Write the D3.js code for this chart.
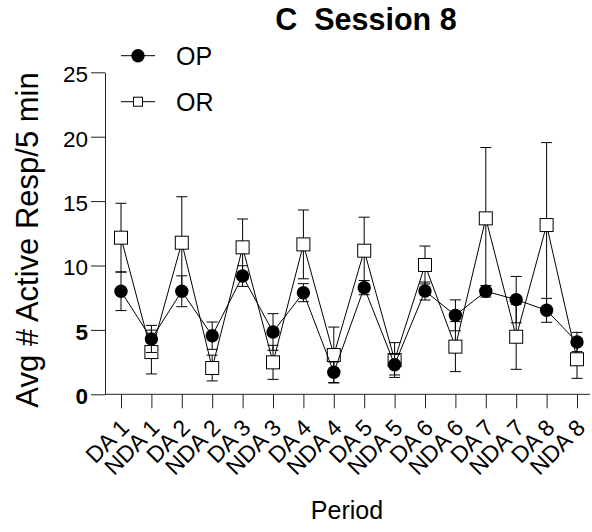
<!DOCTYPE html>
<html lang="en">
<head>
    <meta charset="UTF-8">
    <script src="https://d3js.org/d3.v7.min.js"></script>
    <style>
        body { margin: 0; background: #fff; }
        text { font-family: "Liberation Sans", Arial, sans-serif; fill: #000; }
    </style>
    <title>Session 8</title>
</head>
<body>
    <script>
        // Data (mean and SEM per period)
        const periods = ["DA 1", "NDA 1", "DA 2", "NDA 2", "DA 3", "NDA 3", "DA 4", "NDA 4",
                         "DA 5", "NDA 5", "DA 6", "NDA 6", "DA 7", "NDA 7", "DA 8", "NDA 8"];
        const opMean = [8.0, 4.3, 8.0, 4.55, 9.18, 4.84, 7.89, 1.71, 8.28, 2.3, 8.02, 6.13, 8.0, 7.35, 6.52, 4.06];
        const opSem  = [1.5, 1.05, 1.2, 1.06, 0.8, 1.42, 0.7, 0.8, 0.55, 0.8, 0.7, 1.2, 0.45, 1.8, 0.93, 0.75];
        const orMean = [12.16, 3.28, 11.77, 2.04, 11.41, 2.48, 11.64, 3.05, 11.15, 2.66, 10.04, 3.7, 13.66, 4.47, 13.14, 2.72];
        const orSem  = [2.67, 1.7, 3.57, 1.0, 2.2, 1.32, 2.67, 2.17, 2.6, 1.35, 1.47, 1.94, 5.5, 2.53, 6.4, 1.48];
        const yTicks = [0, 5, 10, 15, 20, 25];

        const width = 592;
        const height = 532;
        const axisX = 105;     // where the y axis sits
        const rightEdge = 590; // end of x axis line

        const svg = d3.select("body")
            .append("svg")
            .attr("width", width)
            .attr("height", height);

        const x = d3.scalePoint()
            .domain(periods)
            .range([121, 577]);

        const y = d3.scaleLinear()
            .domain([0, 25])
            .range([394.3, 72.3]);

        // y axis
        const yAxis = svg.append("g")
            .attr("transform", `translate(${axisX},0)`)
            .call(d3.axisLeft(y).tickValues(yTicks).tickSize(14).tickSizeOuter(0).tickPadding(3));
        yAxis.selectAll("text")
            .style("font-size", "22.5px")
            .style("font-family", "'Liberation Sans', Arial, sans-serif")
            .style("font-weight", d => (d === 0 || d === 5) ? "bold" : "normal")
            .attr("dy", "0.42em");
        yAxis.selectAll("line, path").attr("stroke", "#222");

        // x axis
        const xAxis = svg.append("g")
            .attr("transform", `translate(0,${y(0)})`)
            .call(d3.axisBottom(x).tickSize(14).tickSizeOuter(0));
        xAxis.select(".domain").remove();
        xAxis.append("line")
            .attr("x1", axisX)
            .attr("x2", rightEdge)
            .attr("stroke", "#222");
        xAxis.selectAll(".tick line").attr("stroke", "#222");
        xAxis.selectAll(".tick text")
            .style("font-size", "23px")
            .style("font-family", "'Liberation Sans', Arial, sans-serif")
            .attr("text-anchor", "end")
            .attr("y", 0)
            .attr("dy", 0)
            .attr("transform", "translate(9,35) rotate(-45)");

        const opData = periods.map((p, i) => ({ p, m: opMean[i], s: opSem[i] }));
        const orData = periods.map((p, i) => ({ p, m: orMean[i], s: orSem[i] }));

        const line = d3.line()
            .x(d => x(d.p))
            .y(d => y(d.m));

        function drawSeries(data) {
            const g = svg.append("g");
            g.append("path")
                .datum(data)
                .attr("d", line)
                .attr("fill", "none")
                .attr("stroke", "#000")
                .attr("stroke-width", 1);
            const eb = g.selectAll(".eb")
                .data(data)
                .enter().append("g");
            eb.append("line")
                .attr("x1", d => x(d.p)).attr("x2", d => x(d.p))
                .attr("y1", d => y(d.m - d.s)).attr("y2", d => y(d.m + d.s))
                .attr("stroke", "#000");
            eb.append("line")
                .attr("x1", d => x(d.p) - 5.5).attr("x2", d => x(d.p) + 5.5)
                .attr("y1", d => y(d.m + d.s)).attr("y2", d => y(d.m + d.s))
                .attr("stroke", "#000");
            eb.append("line")
                .attr("x1", d => x(d.p) - 5.5).attr("x2", d => x(d.p) + 5.5)
                .attr("y1", d => y(d.m - d.s)).attr("y2", d => y(d.m - d.s))
                .attr("stroke", "#000");
            return g;
        }

        // OR (open squares) below, OP (filled circles) on top
        const gOR = drawSeries(orData);
        gOR.selectAll(".sq")
            .data(orData)
            .enter().append("rect")
            .attr("x", d => x(d.p) - 6.5)
            .attr("y", d => y(d.m) - 6.5)
            .attr("width", 13)
            .attr("height", 13)
            .attr("fill", "#fff")
            .attr("stroke", "#000");

        const gOP = drawSeries(opData);
        gOP.selectAll(".dot")
            .data(opData)
            .enter().append("circle")
            .attr("cx", d => x(d.p))
            .attr("cy", d => y(d.m))
            .attr("r", 6.7)
            .attr("fill", "#000");

        // Legend
        const legend = svg.append("g");
        const items = [{ name: "OP", ly: 55.7 }, { name: "OR", ly: 101.7 }];
        items.forEach(it => {
            legend.append("line")
                .attr("x1", 121).attr("x2", 155)
                .attr("y1", it.ly).attr("y2", it.ly)
                .attr("stroke", "#000");
            if (it.name === "OP") {
                legend.append("circle").attr("cx", 138).attr("cy", it.ly).attr("r", 6.7).attr("fill", "#000");
            } else {
                legend.append("rect").attr("x", 133.5).attr("y", it.ly - 4.5)
                    .attr("width", 9).attr("height", 9).attr("fill", "#fff").attr("stroke", "#000");
            }
            legend.append("text")
                .attr("x", 176)
                .attr("y", it.ly + 9.5)
                .style("font-size", "25px")
                .text(it.name);
        });

        // Title
        svg.append("text")
            .attr("x", 366)
            .attr("y", 29.5)
            .attr("text-anchor", "middle")
            .style("font-size", "30.5px")
            .style("font-weight", "bold")
            .style("white-space", "pre")
            .text("C  Session 8");

        // Axis titles
        svg.append("text")
            .attr("transform", "translate(38,240) rotate(-90)")
            .attr("text-anchor", "middle")
            .style("font-size", "31px")
            .text("Avg # Active Resp/5 min");

        svg.append("text")
            .attr("x", 347)
            .attr("y", 519)
            .attr("text-anchor", "middle")
            .style("font-size", "25px")
            .text("Period");
    </script>
</body>
</html>
